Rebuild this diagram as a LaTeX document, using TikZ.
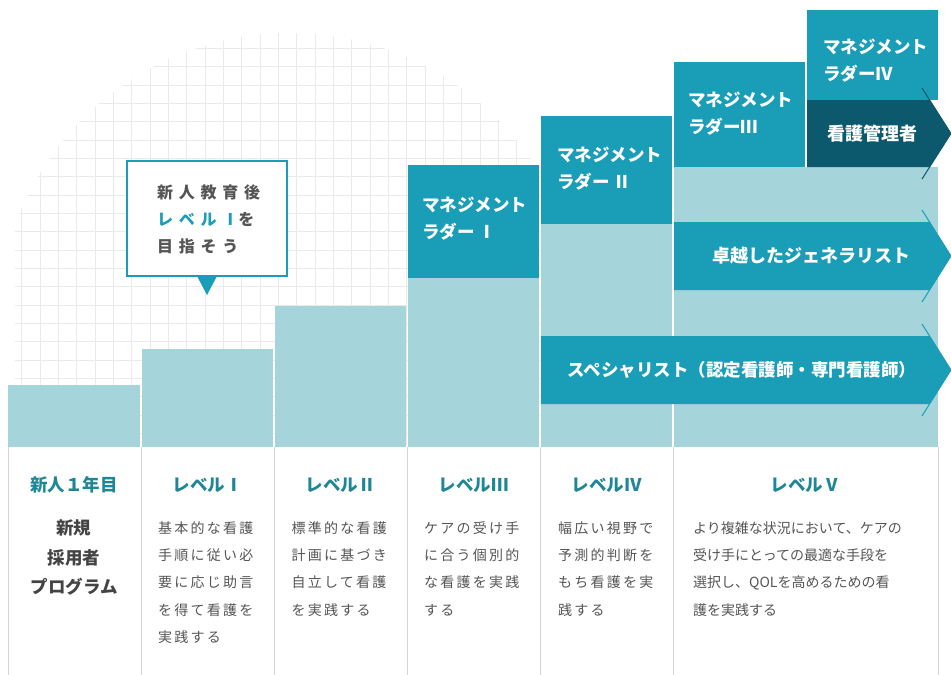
\documentclass[tikz,border=0pt]{standalone}
\usepackage{fontspec}
\setmainfont{Noto Sans CJK JP}
\newfontfamily\spaced[LetterSpace=16]{Noto Sans CJK JP}
\newfontfamily\wide[LetterSpace=36]{Noto Sans CJK JP}

\definecolor{barblue}{RGB}{166,212,219}
\definecolor{ladderteal}{RGB}{26,157,182}
\definecolor{mgrnavy}{RGB}{12,88,108}
\definecolor{headteal}{RGB}{31,134,150}
\definecolor{bodygray}{RGB}{85,85,85}
\definecolor{gridgray}{RGB}{233,235,235}
\definecolor{divgray}{RGB}{212,212,212}

\begin{document}
\begin{tikzpicture}[
			x = 1pt, y = -1pt,
			bar/.style = {fill=barblue},
			ladder/.style = {fill=ladderteal},
			ladtext/.style = {anchor=north west, align=left, inner sep=0pt, text=white,
				font=\fontsize{17.5}{27}\selectfont\bfseries},
			arrtext/.style = {inner sep=0pt, text=white, font=\fontsize{18}{20}\selectfont\bfseries},
			head/.style = {inner sep=0pt, text=headteal, font=\fontsize{17.5}{20}\selectfont\bfseries},
			body/.style = {anchor=north west, align=left, inner sep=0pt, text=bodygray,
				font=\spaced\fontsize{14}{27.2}\selectfont},
			divider/.style = {divgray, line width=1pt}
			]

			\fill[white] (0,0) rectangle (951,675);
			\useasboundingbox (0,0) rectangle (951,675);

			% grid behind the steps
			\begin{scope}
				\clip (290,326) circle (293);
				\foreach \i in {1,...,29} \draw[gridgray, line width=0.6pt] (3.3+18.33*\i,30) -- (3.3+18.33*\i,445);
				\foreach \j in {0,...,22} \draw[gridgray, line width=0.6pt] (15,30+18.33*\j) -- (540,30+18.33*\j);
			\end{scope}

			% steps
			\fill[bar] (8,385) rectangle (140,447);
			\fill[bar] (142,349) rectangle (273,447);
			\fill[bar] (275,306) rectangle (406,447);
			\fill[bar] (408,278) rectangle (539,447);
			\fill[bar] (541,224) rectangle (672,447);
			\fill[bar] (674,167) rectangle (938,447);

			\fill[ladder] (408,165) rectangle (539,278);
			\fill[ladder] (541,116) rectangle (672,224);
			\fill[ladder] (674,62) rectangle (805,167);
			\fill[ladder] (807,10) rectangle (938,100);
			\node[ladtext] (lad1) at (422,197) {マネジメント\\ラダー Ⅰ};
			\node[ladtext] (lad2) at (557,147) {マネジメント\\ラダー Ⅱ};
			\node[ladtext] (lad3) at (688,92) {マネジメント\\ラダーⅢ};
			\node[ladtext] (lad4) at (823,39) {マネジメント\\ラダーⅣ};

			% arrows
			\fill[mgrnavy] (807,100) -- (929.6,100) -- (951,133.5) -- (929.6,167) -- (807,167) -- cycle;
			\draw[mgrnavy, line width=1pt] (922,88) -- (951,133.5) -- (922,179);
			\node[arrtext] (mgr) at (872,133.5) {看護管理者};

			\fill[ladderteal] (674,222) -- (929.6,222) -- (951,256) -- (929.6,290) -- (674,290) -- cycle;
			\draw[ladderteal, line width=1pt] (922,210) -- (951,256) -- (922,302);
			\node[arrtext] (gen) at (811,256) {卓越したジェネラリスト};

			\fill[ladderteal] (541,336) -- (929.6,336) -- (951,370) -- (929.6,404) -- (541,404) -- cycle;
			\draw[ladderteal, line width=1pt] (922,324) -- (951,370) -- (922,416);
			\node[arrtext, font=\fontsize{17.5}{20}\selectfont\bfseries] (spec) at (742,370)
				{スペシャリスト（認定看護師・専門看護師）};

			% callout
			\draw[ladderteal, fill=white, line width=1.5pt] (127,161) rectangle (287,276);
			\fill[ladderteal] (197,276) -- (217,276) -- (207,295) -- cycle;
			\node[anchor=north west, align=left, inner sep=0pt, text=bodygray,
				font=\wide\fontsize{16}{27}\selectfont\bfseries] (goal) at (157,185)
				{新人教育後\\{\color{ladderteal}レベルⅠ}を\\目指そう};

			% table below
			\foreach \x in {8,141,274,407,540,673,938} \draw[divider] (\x,447) -- (\x,675);

			\node[head] (h0) at (74,485) {新人１年目};
			\node[head] (h1) at (207.5,485) {レベルⅠ};
			\node[head] (h2) at (340.5,485) {レベルⅡ};
			\node[head] (h3) at (473.5,485) {レベルⅢ};
			\node[head] (h4) at (606.5,485) {レベルⅣ};
			\node[head] (h5) at (805.5,485) {レベルⅤ};

			\node[anchor=north, align=center, inner sep=0pt, text=bodygray!80!black,
				font=\fontsize{17.5}{29.5}\selectfont\bfseries] (b0) at (74,520) {新規\\採用者\\プログラム};
			\node[body] (b1) at (158,521.5) {基本的な看護\\手順に従い必\\要に応じ助言\\を得て看護を\\実践する};
			\node[body] (b2) at (291.5,521.5) {標準的な看護\\計画に基づき\\自立して看護\\を実践する};
			\node[body] (b3) at (424,521.5) {ケアの受け手\\に合う個別的\\な看護を実践\\する};
			\node[body] (b4) at (558,521.5) {幅広い視野で\\予測的判断を\\もち看護を実\\践する};
			\node[body, font=\fontsize{14}{27.2}\selectfont] (b5) at (693,521.5)
				{より複雑な状況において、ケアの\\受け手にとっての最適な手段を\\選択し、QOLを高めるための看\\護を実践する};

		\end{tikzpicture}
\end{document}
